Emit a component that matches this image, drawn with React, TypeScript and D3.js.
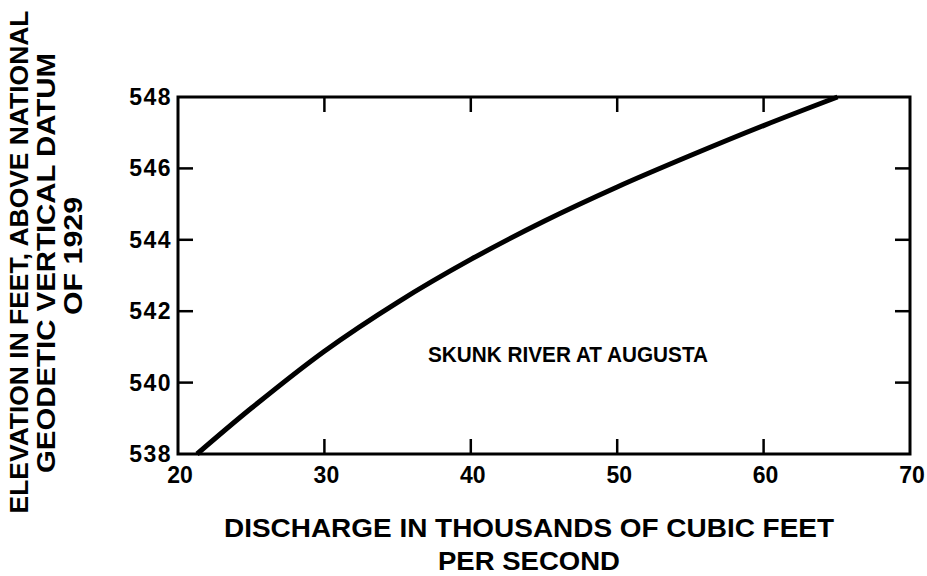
import React, { useEffect, useRef } from "react";
import * as d3 from "d3";

// discharge (thousands of cfs) and elevation (ft)
const discharge = [21.3, 25, 30, 35, 40, 45, 50, 55, 60, 65.05];
const elevation = [538, 539.28, 540.88, 542.25, 543.45, 544.52, 545.48, 546.36, 547.2, 548];

const xTicks = [20, 30, 40, 50, 60, 70];
const yTicks = [538, 540, 542, 544, 546, 548];

const yTitle = ["ELEVATION IN FEET, ABOVE NATIONAL", "GEODETIC VERTICAL DATUM", "OF 1929"];
const xTitle = ["DISCHARGE IN THOUSANDS OF CUBIC FEET", "PER SECOND"];
const stationLabel = "SKUNK RIVER AT AUGUSTA";

function App() {
  const ref = useRef<SVGSVGElement>(null);

  useEffect(() => {
    const width = 927,
      height = 576;
    const margin = { top: 97, right: 17, bottom: 122, left: 178 };
    const font = "'Liberation Sans', Arial, sans-serif";

    const svg = d3.select(ref.current);
    svg.selectAll("*").remove();

    const x = d3.scaleLinear().domain([20, 70]).range([margin.left, width - margin.right]);
    const y = d3.scaleLinear().domain([538, 548]).range([height - margin.bottom, margin.top]);

    svg.append("rect").attr("width", width).attr("height", height).attr("fill", "#fff");

    // frame
    svg
      .append("rect")
      .attr("x", x(20))
      .attr("y", y(548))
      .attr("width", x(70) - x(20))
      .attr("height", y(538) - y(548))
      .attr("fill", "none")
      .attr("stroke", "#000")
      .attr("stroke-width", 3);

    const tickLen = 15;
    const inner = xTicks.slice(1, -1);
    // bottom + top ticks, pointing inward
    [y(538), y(548)].forEach((y0, k) => {
      svg
        .append("g")
        .selectAll("line")
        .data(inner)
        .enter()
        .append("line")
        .attr("x1", (d) => x(d))
        .attr("x2", (d) => x(d))
        .attr("y1", y0)
        .attr("y2", k === 0 ? y0 - tickLen : y0 + tickLen)
        .attr("stroke", "#000")
        .attr("stroke-width", 2.5);
    });

    const innerY = yTicks.slice(1, -1);
    [x(20), x(70)].forEach((x0, k) => {
      svg
        .append("g")
        .selectAll("line")
        .data(innerY)
        .enter()
        .append("line")
        .attr("x1", x0)
        .attr("x2", k === 0 ? x0 + tickLen : x0 - tickLen)
        .attr("y1", (d) => y(d))
        .attr("y2", (d) => y(d))
        .attr("stroke", "#000")
        .attr("stroke-width", 2.5);
    });

    // tick labels
    svg
      .append("g")
      .selectAll("text")
      .data(xTicks)
      .enter()
      .append("text")
      .attr("x", (d) => x(d) + 2)
      .attr("y", y(538) + 29)
      .attr("text-anchor", "middle")
      .attr("font-family", font)
      .attr("font-weight", "bold")
      .attr("font-size", 23)
      .text((d) => d);

    svg
      .append("g")
      .selectAll("text")
      .data(yTicks)
      .enter()
      .append("text")
      .attr("x", x(20) - 6)
      .attr("y", (d) => y(d) + 8)
      .attr("text-anchor", "end")
      .attr("font-family", font)
      .attr("font-weight", "bold")
      .attr("font-size", 23)
      .attr("letter-spacing", 1.5)
      .text((d) => d);

    // rating curve
    const pts: [number, number][] = discharge.map((q, i) => [q, elevation[i]]);
    const line = d3
      .line<[number, number]>()
      .x((d) => x(d[0]))
      .y((d) => y(d[1]))
      .curve(d3.curveCatmullRom.alpha(0.5));
    svg
      .append("path")
      .datum(pts)
      .attr("d", line)
      .attr("fill", "none")
      .attr("stroke", "#000")
      .attr("stroke-width", 5);

    // station label
    svg
      .append("text")
      .attr("x", 568)
      .attr("y", 362)
      .attr("text-anchor", "middle")
      .attr("font-family", font)
      .attr("font-weight", "bold")
      .attr("font-size", 22)
      .attr("textLength", 280)
      .attr("lengthAdjust", "spacingAndGlyphs")
      .text(stationLabel);

    // x title
    const xt = [
      { y: 537, len: 610 },
      { y: 570, len: 182 },
    ];
    xTitle.forEach((t, i) => {
      svg
        .append("text")
        .attr("x", 529)
        .attr("y", xt[i].y)
        .attr("text-anchor", "middle")
        .attr("font-family", font)
        .attr("font-size", 25)
        .attr("textLength", xt[i].len)
        .attr("lengthAdjust", "spacingAndGlyphs")
        .style("font-weight", "bold")
        .text(t);
    });

    // y title, rotated
    const yt = [
      { x: 28, cy: 262, len: 503 },
      { x: 55, cy: 263, len: 420 },
      { x: 82, cy: 256, len: 118 },
    ];
    yTitle.forEach((t, i) => {
      svg
        .append("text")
        .attr("transform", `translate(${yt[i].x},${yt[i].cy}) rotate(-90)`)
        .attr("text-anchor", "middle")
        .attr("font-family", font)
        .attr("font-weight", "bold")
        .attr("font-size", 26)
        .attr("textLength", yt[i].len)
        .attr("lengthAdjust", "spacingAndGlyphs")
        .text(t);
    });
  }, []);

  return (
    <svg
      ref={ref}
      width={927}
      height={576}
      style={{ position: "absolute", left: 0, top: 0, display: "block" }}
    />
  );
}

export default App;
